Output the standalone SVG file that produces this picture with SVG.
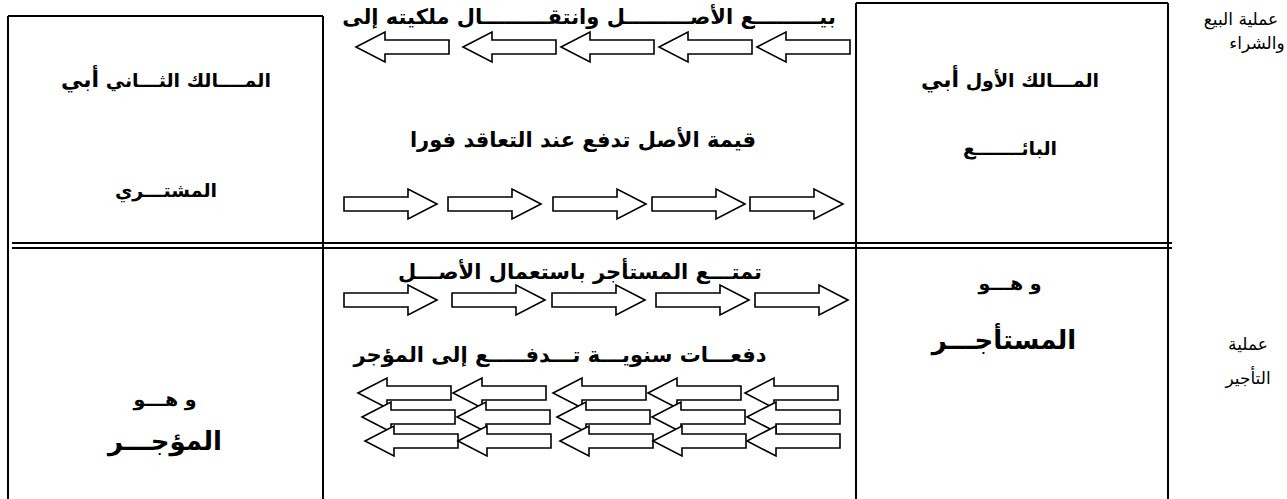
<svg xmlns="http://www.w3.org/2000/svg" xmlns:xlink="http://www.w3.org/1999/xlink" width="1287" height="499" viewBox="0 0 1287 499">
  <style>
    .line { stroke: #000; stroke-width: 2; fill: none; }
    .t { font-family: "DejaVu Sans", "Noto Sans", sans-serif; font-weight: bold; font-size: 19px; fill: #000; text-anchor: middle; direction: rtl; }
    .m { font-size: 21px; }
    .big { font-size: 26px; }
    .side { font-family: "DejaVu Sans", "Noto Sans", sans-serif; font-size: 17px; fill: #000; text-anchor: middle; direction: rtl; }
    .arrow { fill: #fff; stroke: #000; stroke-width: 1.6; stroke-linejoin: miter; }
  </style>
  <defs>
    <!-- block arrow pointing left, tip at origin -->
    <path id="arrowL" class="arrow" d="M0,0 L29,-15 L29,-7 L93,-7 L93,7 L29,7 L29,15 Z"/>
    <!-- block arrow pointing right, tip at origin -->
    <path id="arrowR" class="arrow" d="M0,0 L-29,-15 L-29,-7 L-93,-7 L-93,7 L-29,7 L-29,15 Z"/>
  </defs>

  <rect width="1287" height="499" fill="#fff"/>

  <!-- table frame -->
  <g id="frame">
    <path class="line" d="M8,16 H323 M8,16 V499 M323,16 V499"/>
    <path class="line" d="M856,3 H1168 M856,3 V499 M1168,3 V499"/>
    <path class="line" d="M12,243 H1172 M12,248 H1172"/>
  </g>

  <!-- sale row -->
  <g id="buyer">
    <text class="t" x="166" y="87">المــــالك الثـــاني <tspan font-size="22">أبي</tspan></text>
    <text class="t" x="166" y="197">المشتـــري</text>
  </g>
  <g id="sale-flow">
    <text class="t m" x="589" y="24">بيـــــــــع الأصـــــــــل وانتقـــــــــال ملكيته إلى</text>
    <text class="t m" x="583" y="147">قيمة الأصل تدفع عند التعاقد فورا</text>
  </g>
  <g id="seller">
    <text class="t" x="1010" y="87">المـــالك  الأول <tspan font-size="22">أبي</tspan></text>
    <text class="t" x="1010" y="155">البائـــــــع</text>
  </g>
  <g id="sale-label">
    <text class="side" x="1241" y="25">عملية البيع</text>
    <text class="side" x="1257" y="49">والشراء</text>
  </g>

  <!-- lease row -->
  <g id="lessor">
    <text class="t" x="165" y="406">و هـــو</text>
    <text class="t big" x="165" y="450">المؤجـــر</text>
  </g>
  <g id="lease-flow">
    <text class="t m" x="580" y="279">تمتـــع المستأجر  باستعمال الأصـــل</text>
    <text class="t m" x="560" y="362">دفعـــات سنويـــة تـــدفـــــع إلى المؤجر</text>
  </g>
  <g id="lessee">
    <text class="t" x="1010" y="290">و هـــو</text>
    <text class="t big" x="1004" y="349">المستأجـــر</text>
  </g>
  <g id="lease-label">
    <text class="side" x="1248" y="350">عملية</text>
    <text class="side" x="1248" y="384">التأجير</text>
  </g>

  <!-- flow arrows -->
  <g id="connectors">
    <!-- asset ownership to buyer -->
    <use xlink:href="#arrowL" x="356" y="47"/>
    <use xlink:href="#arrowL" x="463" y="47"/>
    <use xlink:href="#arrowL" x="561" y="47"/>
    <use xlink:href="#arrowL" x="659" y="47"/>
    <use xlink:href="#arrowL" x="757" y="47"/>
    <!-- price paid to seller -->
    <use xlink:href="#arrowR" x="437" y="204"/>
    <use xlink:href="#arrowR" x="541" y="204"/>
    <use xlink:href="#arrowR" x="646" y="204"/>
    <use xlink:href="#arrowR" x="745" y="204"/>
    <use xlink:href="#arrowR" x="843" y="204"/>
    <!-- use of the asset by the lessee -->
    <use xlink:href="#arrowR" x="437" y="300"/>
    <use xlink:href="#arrowR" x="545" y="300"/>
    <use xlink:href="#arrowR" x="645" y="300"/>
    <use xlink:href="#arrowR" x="749" y="300"/>
    <use xlink:href="#arrowR" x="848" y="300"/>
    <!-- annual payments to the lessor -->
    <use xlink:href="#arrowL" x="358" y="393"/>
    <use xlink:href="#arrowL" x="453" y="393"/>
    <use xlink:href="#arrowL" x="553" y="393"/>
    <use xlink:href="#arrowL" x="648" y="393"/>
    <use xlink:href="#arrowL" x="745" y="393"/>
    <use xlink:href="#arrowL" x="362" y="417"/>
    <use xlink:href="#arrowL" x="457" y="417"/>
    <use xlink:href="#arrowL" x="557" y="417"/>
    <use xlink:href="#arrowL" x="652" y="417"/>
    <use xlink:href="#arrowL" x="747" y="417"/>
    <use xlink:href="#arrowL" x="365" y="441"/>
    <use xlink:href="#arrowL" x="458" y="441"/>
    <use xlink:href="#arrowL" x="560" y="441"/>
    <use xlink:href="#arrowL" x="653" y="441"/>
    <use xlink:href="#arrowL" x="747" y="441"/>
  </g>
</svg>
